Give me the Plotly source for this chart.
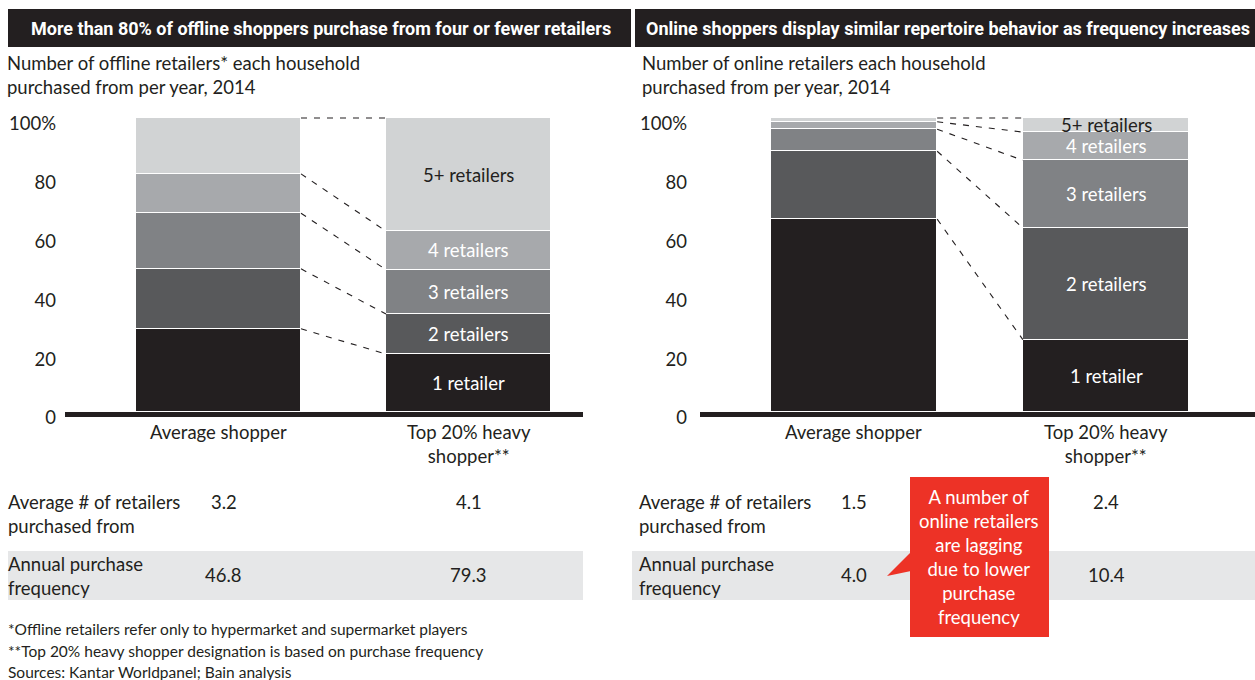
import plotly.graph_objects as go

# ---- data -------------------------------------------------------------
categories = ["Average shopper", "Top 20% heavy<br>shopper**"]
segments = ["1 retailer", "2 retailers", "3 retailers", "4 retailers", "5+ retailers"]
seg_colors = ["#231f20", "#58595b", "#808285", "#a7a9ac", "#d1d3d4"]
seg_text_colors = ["white", "white", "white", "white", "#231f20"]

offline_avg = [28.3, 20.4, 18.9, 13.4, 19.0]
offline_heavy = [19.7, 13.6, 15.1, 13.1, 38.5]
online_avg = [65.6, 23.1, 7.5, 2.5, 1.3]
online_heavy = [24.6, 38.0, 23.0, 9.6, 4.8]

avg_retailers_offline = ["3.2", "4.1"]
freq_offline = ["46.8", "79.3"]
avg_retailers_online = ["1.5", "2.4"]
freq_online = ["4.0", "10.4"]

titles = [
    "More than 80% of offline shoppers purchase from four or fewer retailers",
    "Online shoppers display similar repertoire behavior as frequency increases",
]
subtitles = [
    "Number of offline retailers* each household<br>purchased from per year, 2014",
    "Number of online retailers each household<br>purchased from per year, 2014",
]
row_labels = ["Average # of retailers<br>purchased from", "Annual purchase<br>frequency"]
callout = "A number of<br>online retailers<br>are lagging<br>due to lower<br>purchase<br>frequency"
footnotes = [
    "*Offline retailers refer only to hypermarket and supermarket players",
    "**Top 20% heavy shopper designation is based on purchase frequency",
    "Sources: Kantar Worldpanel; Bain analysis",
]
tick_vals = [0, 20, 40, 60, 80, 100]
tick_text = ["0", "20", "40", "60", "80", "100%"]

# ---- layout helpers ---------------------------------------------------
W, H = 1255, 680
BODY = "Lato"
TITLE_FONT = "Roboto"
INK = "#231f20"
RED = "#ed3226"
BAND = "#e6e7e8"
BAR_W = 0.66
FS = 18.5


def px(x):
    return x / W


def py(y):
    return 1 - y / H


def note(text, x, y, xanchor="center", yanchor="middle", size=FS, color=INK,
         family=BODY, align="center", xref="paper", **kw):
    fig.add_annotation(x=x, y=y, xref=xref, yref=kw.pop("yref", "paper"), text=text,
                       showarrow=False, xanchor=xanchor, yanchor=yanchor, align=align,
                       font=dict(family=family, size=size, color=color), **kw)


fig = go.Figure()

panels = [
    dict(xa="x", ya="y", data=(offline_avg, offline_heavy)),
    dict(xa="x2", ya="y2", data=(online_avg, online_heavy)),
]

for p in panels:
    avg, heavy = p["data"]
    for i, seg in enumerate(segments):
        fig.add_trace(go.Bar(
            x=[0, 1], y=[avg[i], heavy[i]], width=BAR_W,
            marker=dict(color=seg_colors[i], line=dict(color="white", width=1.5)),
            name=seg, showlegend=False, hoverinfo="skip",
            xaxis=p["xa"], yaxis=p["ya"],
        ))
    # dashed connectors between matching cumulative boundaries
    cum_a, cum_h = [], []
    sa = sh = 0.0
    for a, h in zip(avg, heavy):
        sa += a
        sh += h
        cum_a.append(sa)
        cum_h.append(sh)
    for k in range(len(segments)):
        fig.add_trace(go.Scatter(
            x=[BAR_W / 2, 1 - BAR_W / 2], y=[cum_a[k], cum_h[k]],
            mode="lines", line=dict(color=INK, width=1.1, dash="6px,7px"),
            showlegend=False, hoverinfo="skip",
            xaxis=p["xa"], yaxis=p["ya"],
        ))
    # segment labels on the heavy-shopper bar
    base = 0.0
    for i, seg in enumerate(segments):
        mid = base + heavy[i] / 2
        base += heavy[i]
        note(seg, 1, mid, xref=p["xa"], yref=p["ya"], color=seg_text_colors[i])
    # category labels
    for j, c in enumerate(categories):
        note(c, j, py(419), xref=p["xa"], yanchor="top")

axis_common = dict(showgrid=False, zeroline=False, fixedrange=True, automargin=False)
ydom = [py(412), py(110)]
yr = [0, 102.72]
fig.update_layout(
    width=W, height=H, margin=dict(l=0, r=0, t=0, b=0, pad=0, autoexpand=False),
    paper_bgcolor="white", plot_bgcolor="white", template="none",
    barmode="stack", bargap=0,
    xaxis=dict(domain=[px(65), px(583)], range=[-0.614, 1.458],
               showticklabels=False, ticks="", showline=True, linewidth=5,
               linecolor=INK, anchor="y", **axis_common),
    xaxis2=dict(domain=[px(700), px(1255)], range=[-0.611, 1.591],
                showticklabels=False, ticks="", showline=True, linewidth=5,
                linecolor=INK, anchor="y2", **axis_common),
    yaxis=dict(domain=ydom, range=yr, tickvals=tick_vals, ticktext=tick_text,
               ticks="", showline=False, ticklabelstandoff=8, ticklabelshift=6,
               anchor="x", tickfont=dict(family=BODY, size=FS, color=INK), **axis_common),
    yaxis2=dict(domain=ydom, range=yr, tickvals=tick_vals, ticktext=tick_text,
                ticks="", showline=False, ticklabelstandoff=12, ticklabelshift=6,
                anchor="x2", tickfont=dict(family=BODY, size=FS, color=INK),
                **axis_common),
)


def rect(x0, y0, x1, y1, color, layer="below"):
    return dict(type="rect", xref="paper", yref="paper", x0=px(x0), x1=px(x1),
                y0=py(y1), y1=py(y0), fillcolor=color, line=dict(width=0), layer=layer)


shapes = [
    rect(8, 9, 631, 47, INK),          # title bars
    rect(635, 9, 1255, 47, INK),
    rect(8, 551, 583, 600, BAND),      # shaded table rows
    rect(632, 551, 1255, 600, BAND),
    rect(910, 477, 1049, 637, RED, layer="above"),   # callout box
    dict(type="path", xref="paper", yref="paper",
         path=f"M {px(911)} {py(552)} L {px(887)} {py(576)} L {px(911)} {py(571)} Z",
         fillcolor=RED, line=dict(width=0)),
]
fig.update_layout(shapes=shapes)

# titles and subtitles
for t, xc in zip(titles, [321, 948]):
    note(f"<b>{t}</b>", px(xc), py(29), family=TITLE_FONT, size=18, color="white")
for s, xl in zip(subtitles, [5, 640]):
    note(s, px(xl), py(75), xanchor="left", align="left")

# table rows
for xl in [6, 637]:
    for lbl, yc in zip(row_labels, [514, 576]):
        note(lbl, px(xl), py(yc), xanchor="left", align="left")
table_vals = [
    ("x", avg_retailers_offline, 502), ("x", freq_offline, 575),
    ("x2", avg_retailers_online, 502), ("x2", freq_online, 575),
]
for xa, vals, yc in table_vals:
    for j, v in enumerate(vals):
        note(v, j, py(yc), xref=xa, xshift=5 if (j == 0 and xa == "x") else 0)

note(callout, px(979), py(557), color="white")

for line, yc in zip(footnotes, [629, 651, 672]):
    note(line, px(6), py(yc), xanchor="left", align="left", size=15.5)

fig.write_html("out.html")
